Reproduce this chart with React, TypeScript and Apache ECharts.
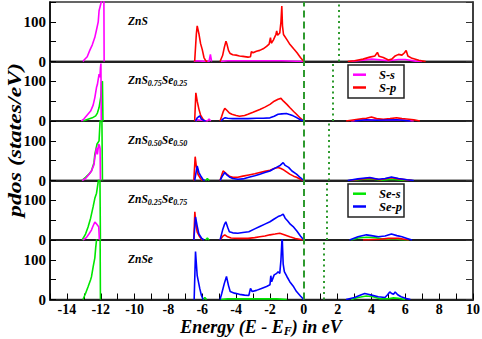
import React, { useEffect, useRef } from "react";
import * as echarts from "echarts";

// ---------- data ----------
const energyMin = -15;
const energyMax = 10;
const pdosMax = 150;
const pdosLabels = [0, 100];
const fermiLevel = 0;
const gapEdges = [2.05, 1.73, 1.5, 1.35, 1.16];

const panelBase = [
  ["ZnS"],
  ["ZnS", "0.75", "Se", "0.25"],
  ["ZnS", "0.50", "Se", "0.50"],
  ["ZnS", "0.25", "Se", "0.75"],
  ["ZnSe"],
];

const seriesNames = ["S-s", "S-p", "Se-s", "Se-p"];
const seriesColors = ["#ff00ff", "#ff0000", "#00e600", "#0000ff"];

// ZnS
const p1Ss = [
  [[-13.05, 0], [-13.0, 3], [-12.8, 12], [-12.65, 28], [-12.5, 42], [-12.35, 61], [-12.25, 80], [-12.15, 100], [-12.1, 128], [-12.0, 145], [-11.95, 155], [-11.83, 320], [-11.8, 0]],
  [[-6.5, 0], [-6.35, 2], [-6.0, 1], [-5.6, 0], [-5.52, 18], [-5.45, 0]],
  [[-4.9, 0], [-4.5, 2], [-3.0, 2], [-1.3, 2], [0, 0]],
  [[2.7, 0], [3.5, 3], [4.0, 6], [4.5, 4], [5.0, 2], [5.6, 5], [6.0, 5], [6.6, 1], [7.0, 0]],
];
const p1Sp = [
  [[-6.45, 0], [-6.35, 70], [-6.3, 90], [-6.2, 70], [-6.1, 45], [-6.0, 30], [-5.9, 10], [-5.8, 2], [-5.7, 0]],
  [[-4.95, 0], [-4.8, 15], [-4.7, 35], [-4.6, 51], [-4.55, 45], [-4.45, 28], [-4.35, 20], [-4.2, 17], [-4.0, 16], [-3.8, 14], [-3.6, 13], [-3.3, 11], [-3.15, 12], [-3.1, 25], [-3.0, 22], [-2.8, 26], [-2.6, 28], [-2.4, 32], [-2.2, 38], [-2.05, 44], [-1.97, 60], [-1.92, 46], [-1.8, 54], [-1.65, 68], [-1.6, 77], [-1.55, 66], [-1.42, 72], [-1.35, 100], [-1.3, 140], [-1.26, 90], [-1.2, 68], [-1.0, 55], [-0.85, 45], [-0.6, 32], [-0.4, 22], [-0.2, 10], [0, 0]],
  [[2.6, 0], [3.0, 2], [3.5, 6], [3.9, 11], [4.2, 14], [4.35, 23], [4.45, 13], [4.7, 10], [5.0, 4], [5.2, 6], [5.4, 14], [5.6, 18], [5.8, 16], [5.95, 22], [6.05, 28], [6.15, 14], [6.4, 8], [6.8, 3], [7.2, 0]],
];

// ZnS0.75Se0.25
const p2Ss = [
  [[-13.15, 0], [-13.0, 5], [-12.8, 15], [-12.6, 25], [-12.45, 40], [-12.35, 59], [-12.25, 85], [-12.2, 92], [-12.1, 118], [-12.05, 110], [-12.02, 134], [-11.99, 145], [-11.97, 0]],
  [[-6.4, 0], [-6.3, 3], [-5.7, 0], [-5.6, 5], [-5.5, 0]],
  [[2.8, 0], [3.7, 3], [4.5, 2], [5.5, 3], [6.5, 0]],
];
const p2Sp = [
  [[-6.45, 0], [-6.38, 71], [-6.3, 50], [-6.2, 30], [-6.1, 15], [-5.95, 4], [-5.85, 0]],
  [[-4.95, 0], [-4.85, 12], [-4.75, 25], [-4.67, 32], [-4.55, 27], [-4.4, 20], [-4.25, 17], [-4.0, 14], [-3.8, 12], [-3.5, 14], [-3.3, 17], [-3.0, 22], [-2.6, 29], [-2.3, 35], [-2.0, 42], [-1.75, 50], [-1.52, 55], [-1.35, 57], [-1.2, 50], [-1.0, 42], [-0.83, 34], [-0.6, 24], [-0.43, 17], [-0.2, 7], [0, 0]],
  [[2.5, 0], [3.0, 3], [3.5, 6], [3.7, 7], [4.0, 10], [4.3, 6], [4.7, 4], [5.1, 6], [5.48, 8], [5.8, 6], [6.07, 5], [6.5, 3], [6.86, 0]],
];
const p2Ses = [
  [[-13.05, 0], [-12.8, 4], [-12.5, 8], [-12.3, 13], [-12.2, 20], [-12.1, 34], [-12.0, 60], [-11.95, 97], [-11.9, 100], [-11.87, 0]],
];
const p2Sep = [
  [[-6.4, 0], [-6.3, 8], [-6.15, 13], [-6.05, 5], [-5.9, 1], [-5.8, 0]],
  [[-4.9, 0], [-4.75, 6], [-4.65, 8], [-4.5, 7], [-4.2, 6], [-3.8, 6], [-3.3, 6], [-2.8, 7], [-2.4, 7], [-2.0, 8], [-1.75, 12], [-1.52, 17], [-1.3, 18], [-1.03, 19], [-0.8, 16], [-0.63, 13], [-0.4, 8], [-0.2, 3], [0, 0]],
  [[3.0, 0], [3.7, 3], [4.3, 2], [5.5, 3], [6.3, 0]],
];

// ZnS0.50Se0.50
const p3Ss = [
  [[-13.1, 0], [-12.9, 5], [-12.7, 15], [-12.55, 24], [-12.4, 40], [-12.35, 58], [-12.25, 83], [-12.2, 66], [-12.12, 92], [-12.07, 87], [-12.04, 80], [-12.02, 0]],
];
const p3Sp = [
  [[-6.5, 0], [-6.42, 60], [-6.35, 35], [-6.25, 15], [-6.1, 5], [-6.0, 0]],
  [[-4.95, 0], [-4.85, 14], [-4.77, 24], [-4.65, 20], [-4.55, 16], [-4.4, 11], [-4.2, 8], [-3.9, 8], [-3.6, 11], [-3.25, 14], [-2.9, 17], [-2.6, 20], [-2.3, 23], [-2.0, 26], [-1.75, 30], [-1.52, 33], [-1.35, 30], [-1.24, 28], [-1.0, 21], [-0.83, 16], [-0.6, 11], [-0.43, 8], [-0.2, 3], [0, 0]],
  [[2.7, 0], [3.3, 3], [3.9, 6], [4.5, 2], [5.18, 7], [5.6, 4], [6.4, 0]],
];
const p3Ses = [
  [[-13.12, 0], [-12.9, 8], [-12.7, 16], [-12.55, 24], [-12.4, 45], [-12.35, 66], [-12.22, 92], [-12.1, 100], [-12.05, 142], [-12.0, 170], [-11.95, 240], [-11.9, 0]],
  [[-5.8, 0], [-5.7, 5], [-5.6, 0]],
  [[2.8, 0], [3.5, 3], [4.0, 4], [4.6, 1], [5.2, 3], [5.8, 1], [6.2, 0]],
];
const p3Sep = [
  [[-6.45, 0], [-6.3, 37], [-6.2, 20], [-6.1, 12], [-5.95, 2], [-5.85, 0]],
  [[-4.95, 0], [-4.8, 12], [-4.67, 20], [-4.55, 14], [-4.4, 9], [-4.2, 5], [-3.9, 3], [-3.6, 4], [-3.25, 8], [-2.9, 12], [-2.6, 16], [-2.3, 20], [-2.0, 24], [-1.8, 29], [-1.62, 33], [-1.4, 38], [-1.22, 45], [-1.1, 38], [-0.9, 33], [-0.7, 24], [-0.43, 16], [-0.2, 7], [0, 0]],
  [[2.6, 0], [3.2, 4], [3.9, 7.5], [4.4, 3], [4.8, 5], [5.18, 9], [5.6, 5], [6.1, 2], [6.5, 0]],
];

// ZnS0.25Se0.75
const p4Ss = [
  [[-13.05, 0], [-12.85, 6], [-12.7, 15], [-12.55, 25], [-12.45, 36], [-12.35, 45], [-12.28, 42], [-12.2, 38], [-12.12, 33], [-12.08, 0]],
];
const p4Sp = [
  [[-6.5, 0], [-6.44, 71], [-6.38, 40], [-6.3, 20], [-6.15, 8], [-6.0, 0]],
  [[-4.95, 0], [-4.8, 9], [-4.67, 13], [-4.5, 8], [-4.3, 5], [-3.9, 4], [-3.3, 4], [-2.9, 6], [-2.6, 8], [-2.3, 10], [-2.0, 13], [-1.7, 15], [-1.42, 17], [-1.2, 14], [-0.83, 8], [-0.5, 4], [0, 0]],
  [[3.5, 0], [4.5, 2], [5.0, 4], [5.6, 4], [6.2, 0]],
];
const p4Ses = [
  [[-13.1, 0], [-12.9, 15], [-12.75, 33], [-12.6, 55], [-12.45, 84], [-12.35, 105], [-12.25, 118], [-12.15, 147], [-12.1, 160], [-12.05, 170], [-12.02, 0]],
  [[-5.8, 0], [-5.7, 5], [-5.6, 0]],
  [[2.8, 0], [3.2, 5], [3.7, 7], [4.2, 6], [4.6, 3], [5.0, 2], [5.3, 3], [5.8, 1], [6.2, 0]],
];
const p4Sep = [
  [[-6.5, 0], [-6.4, 58], [-6.3, 35], [-6.2, 15], [-6.05, 5], [-5.9, 0]],
  [[-4.95, 0], [-4.8, 25], [-4.7, 38], [-4.61, 46], [-4.5, 32], [-4.4, 21], [-4.2, 18], [-3.9, 17], [-3.6, 19], [-3.25, 21], [-2.9, 28], [-2.6, 34], [-2.3, 40], [-2.0, 46], [-1.75, 53], [-1.52, 59], [-1.35, 62], [-1.22, 65], [-1.1, 55], [-0.95, 48], [-0.8, 40], [-0.63, 34], [-0.4, 22], [-0.2, 10], [0, 0]],
  [[2.7, 0], [3.2, 8], [3.7, 13], [4.0, 11], [4.4, 8], [4.8, 10], [5.18, 15], [5.5, 11], [5.8, 8], [6.1, 4], [6.4, 0]],
];

// ZnSe
const p5Ses = [
  [[-13.05, 0], [-12.9, 15], [-12.75, 32], [-12.6, 50], [-12.55, 57], [-12.45, 82], [-12.35, 105], [-12.3, 130], [-12.2, 170], [-12.05, 260], [-12.02, 0]],
  [[-5.95, 0], [-5.85, 5], [-5.75, 0]],
  [[-4.9, 0], [-4.5, 1.5], [-3.0, 1.5], [-1.6, 1.5], [-1.0, 0]],
  [[2.8, 0], [3.2, 5], [3.7, 9], [4.1, 7], [4.5, 2], [5.0, 2], [5.3, 4], [5.6, 3], [6.0, 0]],
];
const p5Sep = [
  [[-6.48, 0], [-6.4, 121], [-6.3, 60], [-6.15, 28], [-6.05, 10], [-5.95, 0]],
  [[-4.95, 0], [-4.85, 15], [-4.7, 40], [-4.57, 58], [-4.45, 35], [-4.35, 20], [-4.1, 16], [-3.8, 13], [-3.5, 11], [-3.25, 10], [-3.15, 28], [-3.05, 20], [-2.8, 23], [-2.5, 28], [-2.2, 33], [-2.0, 37], [-1.95, 60], [-1.9, 45], [-1.75, 62], [-1.6, 66], [-1.52, 70], [-1.42, 66], [-1.35, 100], [-1.28, 160], [-1.22, 90], [-1.15, 70], [-1.0, 58], [-0.83, 45], [-0.6, 32], [-0.43, 20], [-0.2, 9], [0, 0]],
  [[2.5, 0], [3.0, 5], [3.4, 12], [3.6, 15], [3.8, 13], [4.0, 11], [4.4, 7], [4.8, 5], [4.95, 12], [5.08, 19], [5.2, 15], [5.3, 13], [5.4, 19], [5.55, 12], [5.75, 7], [6.0, 3], [6.3, 0]],
];

// [S-s, S-p, Se-s, Se-p] per panel
const panelData = [
  [p1Ss, p1Sp, null, null],
  [p2Ss, p2Sp, p2Ses, p2Sep],
  [p3Ss, p3Sp, p3Ses, p3Sep],
  [p4Ss, p4Sp, p4Ses, p4Sep],
  [null, null, p5Ses, p5Sep],
];

// ---------- chart ----------
const FONT = "'Liberation Serif', 'Times New Roman', serif";
const drawOrder = [2, 0, 1, 3];

function joinSegments(segs: number[][][]) {
  const out: any[] = [];
  segs.forEach((seg, k) => {
    if (k > 0) out.push([seg[0][0], "-"]);
    seg.forEach((p) => out.push(p));
  });
  return out;
}

export default function App() {
  const ref = useRef<HTMLDivElement>(null);
  useEffect(() => {
    if (!ref.current) return;
    const chart = echarts.init(ref.current, null, { renderer: "svg" });
    const nP = panelBase.length;
    const top0 = 2;
    const ph = 59.5;
    const grids: any[] = [];
    const xAxes: any[] = [];
    const yAxes: any[] = [];
    const series: any[] = [];
    const graphics: any[] = [];

    for (let i = 0; i < nP; i++) {
      const last = i === nP - 1;
      grids.push({
        left: 50,
        right: 9,
        top: top0 + i * ph,
        height: ph,
        show: true,
        borderColor: "#333",
        borderWidth: 1.5,
        outerBoundsMode: "none",
        containLabel: false,
      });
      xAxes.push({
        type: "value",
        gridIndex: i,
        min: energyMin,
        max: energyMax,
        interval: 1,
        axisLine: { show: true, onZero: false, lineStyle: { color: "#222", width: 2 } },
        axisTick: { show: last, inside: true, length: 6, lineStyle: { color: "#000", width: 1 } },
        axisLabel: {
          show: last,
          margin: 3,
          fontFamily: FONT,
          fontWeight: "bold",
          fontSize: 14,
          color: "#000",
          formatter: (v: number) => (Math.round(v) % 2 === 0 ? String(v) : ""),
        },
        splitLine: { show: false },
      });
      yAxes.push({
        type: "value",
        gridIndex: i,
        min: 0,
        max: pdosMax,
        interval: 50,
        axisLine: { show: true, onZero: false, lineStyle: { color: "#000", width: 1.5 } },
        axisTick: { show: true, inside: true, length: 6, lineStyle: { color: "#000" } },
        axisLabel: {
          margin: 4,
          fontFamily: FONT,
          fontWeight: "bold",
          fontSize: 15,
          color: "#000",
          formatter: (v: number) => (pdosLabels.includes(v) ? String(v) : ""),
        },
        splitLine: { show: false },
      });
      yAxes.push({
        type: "value",
        gridIndex: i,
        position: "right",
        min: 0,
        max: pdosMax,
        interval: 50,
        axisLine: { show: true, onZero: false, lineStyle: { color: "#333", width: 1.5 } },
        axisTick: { show: true, inside: true, length: 7, lineStyle: { color: "#333" } },
        axisLabel: { show: false },
        splitLine: { show: false },
      });

      let first = true;
      drawOrder.forEach((k) => {
        const segs = panelData[i][k];
        if (!segs) return;
        const s: any = {
          name: seriesNames[k],
          type: "line",
          xAxisIndex: i,
          yAxisIndex: i * 2,
          data: joinSegments(segs as any),
          showSymbol: false,
          symbol: "none",
          clip: true,
          connectNulls: false,
          lineStyle: { color: seriesColors[k], width: 1.6 },
          itemStyle: { color: seriesColors[k] },
          z: 3,
        };
        if (first) {
          s.markLine = {
            silent: true,
            symbol: ["none", "none"],
            label: { show: false },
            z: 5,
            data: [
              { xAxis: fermiLevel, lineStyle: { type: [7, 4], color: "#2e9a2e", width: 2 } },
              { xAxis: gapEdges[i], lineStyle: { type: [2, 3.5], color: "#2e9a2e", width: 2 } },
            ],
          };
          first = false;
        }
        series.push(s);
      });

      // panel label
      const parts = panelBase[i];
      const rt = parts
        .map((p, j) => (j % 2 === 0 ? `{b|${p}}` : `{s|${p}}`))
        .join("");
      graphics.push({
        type: "text",
        x: 128,
        y: top0 + i * ph + 18.7,
        style: {
          text: rt,
          verticalAlign: "middle",
          rich: {
            b: { fontFamily: FONT, fontStyle: "italic", fontWeight: "bold", fontSize: 11.5, fill: "#000" },
            s: { fontFamily: FONT, fontStyle: "italic", fontWeight: "bold", fontSize: 8, fill: "#000", padding: [7, 0, 0, 0] },
          },
        },
      });
    }

    // legends
    const legendBox = (x: number, y: number, items: number[]) => {
      graphics.push({
        type: "rect",
        shape: { x, y, width: 56, height: 33 },
        style: { fill: "#fff", stroke: "#222", lineWidth: 1.5 },
        z: 10,
      });
      items.forEach((k, j) => {
        const ly = y + 9.7 + j * 12.8;
        graphics.push({
          type: "line",
          shape: { x1: x + 5, y1: ly, x2: x + 18, y2: ly },
          style: { stroke: seriesColors[k], lineWidth: 2.5 },
          z: 11,
        });
        graphics.push({
          type: "text",
          x: x + 31,
          y: ly,
          style: {
            text: seriesNames[k],
            verticalAlign: "middle",
            font: `italic bold 12.5px ${FONT}`,
            fill: "#000",
          },
          z: 11,
        });
      });
    };
    legendBox(348, 65, [0, 1]);
    legendBox(348, 184, [2, 3]);

    // axis titles
    graphics.push({
      type: "text",
      x: 15,
      y: 140,
      rotation: Math.PI / 2,
      scaleX: 1.22,
      style: {
        text: "pdos (states/eV)",
        align: "center",
        verticalAlign: "middle",
        font: `italic bold 19.5px ${FONT}`,
        fill: "#000",
      },
    });
    graphics.push({
      type: "text",
      x: 261,
      y: 327,
      style: {
        text: "{i|Energy (E - E}{f|F}{i|) in eV}",
        align: "center",
        verticalAlign: "middle",
        rich: {
          i: { fontFamily: FONT, fontStyle: "italic", fontWeight: "bold", fontSize: 18, fill: "#000" },
          f: { fontFamily: FONT, fontStyle: "italic", fontWeight: "bold", fontSize: 12, fill: "#000", padding: [8, 0, 0, 0] },
        },
      },
    });

    chart.setOption({
      animation: false,
      backgroundColor: "#fff",
      grid: grids,
      xAxis: xAxes,
      yAxis: yAxes,
      series,
      graphic: graphics,
    });
    return () => chart.dispose();
  }, []);
  return (
    <div
      ref={ref}
      style={{ position: "fixed", left: 0, top: 0, width: 482, height: 339 }}
    />
  );
}
